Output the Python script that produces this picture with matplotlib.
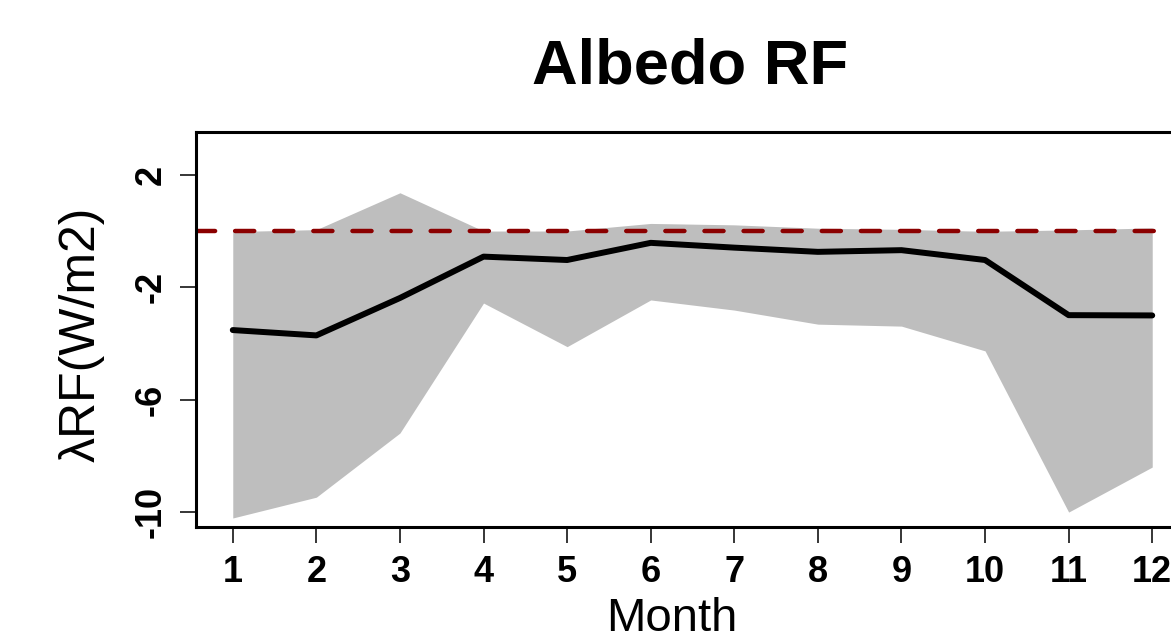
import matplotlib
matplotlib.use("Agg")
from matplotlib import pyplot as plt

MONTHS = list(range(1, 13))
RF_MEAN = [-3.52, -3.71, -2.38, -0.91, -1.03, -0.42, -0.59, -0.74, -0.68, -1.03, -2.99, -3.00]
RF_UPPER = [-0.02, 0.05, 1.36, 0.00, 0.00, 0.27, 0.22, 0.10, 0.06, -0.01, 0.04, 0.11]
RF_LOWER = [-10.20, -9.46, -7.18, -2.56, -4.11, -2.45, -2.81, -3.31, -3.38, -4.26, -9.99, -8.39]
YTICKS = [2, -2, -6, -10]

W, H = 1171, 636
plt.rcParams["font.family"] = ["Liberation Sans", "DejaVu Sans"]

fig = plt.figure(figsize=(W / 100, H / 100), dpi=100)
ax = fig.add_axes([196 / W, 1 - 527 / H, (1189 - 196) / W, 395 / H])

ax.fill_between(MONTHS, RF_LOWER, RF_UPPER, color="#BEBEBE", linewidth=0)
ax.axhline(0, color="#8B0000", lw=3.2, linestyle=(0, (4.3, 4.5)),
           dash_capstyle="round")
ax.plot(MONTHS, RF_MEAN, color="black", lw=4.3,
        solid_capstyle="round", solid_joinstyle="round")

ax.set_xlim(0.56, 12.44)
ax.set_ylim(-10.52, 3.52)
ax.set_xticks(MONTHS)
ax.set_xticklabels([str(m) for m in MONTHS], fontsize=26, fontweight="bold")
ax.set_yticks(YTICKS)
ax.set_yticklabels([str(v) for v in YTICKS], fontsize=26, fontweight="bold",
                   rotation=90, va="center")
ax.tick_params(axis="x", length=11.5, width=1.1, pad=8.8)
ax.tick_params(axis="y", length=11.5, width=1.1, pad=8)

for s in ["top", "left", "bottom"]:
    ax.spines[s].set_linewidth(2.2)
ax.spines["right"].set_visible(False)

fig.text(690 / W, 1 - 83 / H, "Albedo RF", fontsize=45.5, fontweight="bold",
         ha="center", va="baseline")
fig.text(672 / W, 1 - 631 / H, "Month", fontsize=34, ha="center", va="baseline")
fig.text(82 / W, 1 - 334 / H, "\u03bbRF(W/m2)", fontsize=36, rotation=90,
         ha="center", va="center")

fig.savefig("out.png", dpi=100)
